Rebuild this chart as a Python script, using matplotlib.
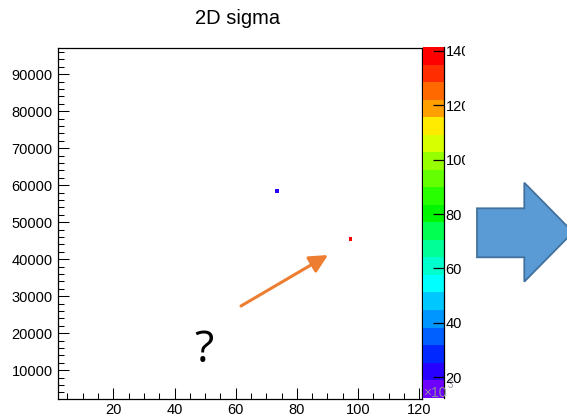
import numpy as np
import matplotlib
matplotlib.use("Agg")
import matplotlib.pyplot as plt
from matplotlib.colors import ListedColormap, BoundaryNorm
from matplotlib.patches import Polygon
from matplotlib.transforms import Bbox

# the two filled bins of the 2D histogram (sigma in units of 10^3)
x_vals = [73.1, 97.9]
y_vals = [58900, 45600]
sigma_k = [22, 141]

z_min, z_max = 12.5, 141.4
n_levels = 20

# ROOT-like rainbow palette, bottom -> top
palette = [
    (110, 0, 255), (40, 0, 255), (0, 40, 255), (0, 95, 255), (0, 150, 255),
    (0, 200, 255), (0, 255, 255), (0, 255, 205), (0, 255, 150), (0, 255, 80),
    (0, 245, 0), (40, 255, 0), (100, 255, 0), (150, 255, 0), (215, 255, 0),
    (255, 235, 0), (255, 160, 0), (255, 105, 0), (255, 45, 0), (255, 0, 0),
]

x_ticks = [20, 40, 60, 80, 100, 120]
y_ticks = [10000, 20000, 30000, 40000, 50000, 60000, 70000, 80000, 90000]
z_ticks = [20, 40, 60, 80, 100, 120, 140]

plt.rcParams["font.family"] = ["Liberation Sans", "DejaVu Sans"]

W, H = 567, 417
fig = plt.figure(figsize=(W / 100, H / 100), dpi=100)

ax = fig.add_axes([58.3 / W, 18 / H, (421.7 - 58.3) / W, (399 - 48.3) / H])
cax = fig.add_axes([423 / W, 19.3 / H, 21 / W, (397.7 - 47) / H])

xedges = np.arange(2, 122, 1)
yedges = np.arange(2000, 98000, 1000)
hist, xe, ye = np.histogram2d(x_vals, y_vals, bins=[xedges, yedges], weights=sigma_k)
hist = np.ma.masked_equal(hist, 0)

cmap = ListedColormap([tuple(c / 255 for c in rgb) for rgb in palette])
levels = np.linspace(z_min, z_max, n_levels + 1)
norm = BoundaryNorm(levels, n_levels)
mesh = ax.pcolormesh(xe, ye, hist.T, cmap=cmap, norm=norm, edgecolors="none", antialiased=False)

ax.set_xlim(2, 120.8)
ax.set_ylim(2200, 97000)
ax.set_xticks(x_ticks)
ax.set_xticks(np.arange(5, 121, 5), minor=True)
ax.set_yticks(y_ticks)
ax.set_yticks(np.arange(4000, 97000, 2000), minor=True)
ax.tick_params(which="both", direction="in", top=False, right=False, width=0.75, labelsize=10.5)
ax.tick_params(which="major", length=8)
ax.tick_params(which="minor", length=4)
ax.tick_params(axis="x", pad=3)
ax.tick_params(axis="y", pad=4)
for s in ax.spines.values():
    s.set_linewidth(0.9)

cb = fig.colorbar(mesh, cax=cax)
cb.outline.set_visible(False)
cb.set_ticks(z_ticks)
cb.set_ticklabels([str(t) for t in z_ticks])
cb.minorticks_off()
cax.tick_params(direction="in", length=8, width=0.9, labelsize=10.5, pad=1)
cax.plot([1, 1], [0, 1], color="black", lw=0.9, transform=cax.transAxes, clip_on=False)
# the screenshot cuts the palette labels off on the right
clip = Bbox.from_extents(0, 0, 464.5, H)
for lab in cax.get_yticklabels():
    lab.set_clip_box(clip)
    lab.set_clip_on(True)

mult = fig.text(423 / W, (H - 397) / H, "\u00d710", fontsize=10, color="#8c8c9c",
                ha="left", va="baseline")
expo = fig.text(447.5 / W, (H - 387.5) / H, "3", fontsize=7, color="#8c8c9c",
                ha="left", va="baseline")
expo.set_clip_box(Bbox.from_extents(0, 0, 453, H))
expo.set_clip_on(True)

fig.text(237.5 / W, (H - 19) / H, "2D sigma", fontsize=14.5, ha="center", va="center")

# slide overlays: question mark, orange arrow, big blue arrow
fig.text(204 / W, (H - 362) / H, "?", fontsize=32, family="Open Sans", ha="center", va="baseline")

ax.annotate("", xy=(328, H - 255), xytext=(241, H - 306),
            xycoords="figure pixels", textcoords="figure pixels",
            arrowprops=dict(arrowstyle="-|>,head_length=1.1,head_width=0.55",
                            color="#ED7D31", lw=2.2, shrinkA=0, shrinkB=0))

arrow_pts = [(477, 208.3), (524.3, 208.3), (524.3, 182.7), (573, 232.2),
             (524.3, 281.7), (524.3, 257.3), (477, 257.3)]
blue_arrow = Polygon([(px / W, (H - py) / H) for px, py in arrow_pts], closed=True,
                     transform=fig.transFigure, facecolor="#5B9BD5", edgecolor="#41719C", lw=1.3)
fig.add_artist(blue_arrow)

fig.savefig("out.png", dpi=100)
